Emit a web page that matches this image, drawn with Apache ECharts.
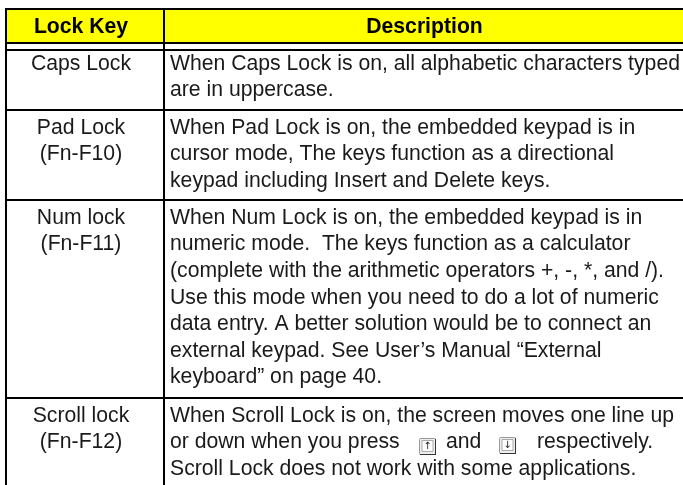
<!DOCTYPE html>
<html>
<head>
<meta charset="utf-8">
<style>html,body{margin:0;padding:0;background:#fff}#main{width:683px;height:485px}</style>
<script src="https://cdn.jsdelivr.net/npm/echarts@6/dist/echarts.min.js"></script>
</head>
<body>
<div id="main"></div>
<script>
var headers = ['Lock Key', 'Description'];
var lockKeys = [
  ['Caps Lock'],
  ['Pad Lock', '(Fn-F10)'],
  ['Num lock', '(Fn-F11)'],
  ['Scroll lock', '(Fn-F12)']
];
var descriptions = [
  ['When Caps Lock is on, all alphabetic characters typed',
   'are in uppercase.'],
  ['When Pad Lock is on, the embedded keypad is in',
   'cursor mode, The keys function as a directional',
   'keypad including Insert and Delete keys.'],
  ['When Num Lock is on, the embedded keypad is in',
   'numeric mode.  The keys function as a calculator',
   '(complete with the arithmetic operators +, -, *, and /).',
   'Use this mode when you need to do a lot of numeric',
   'data entry. A better solution would be to connect an',
   'external keypad. See User\u2019s Manual \u201cExternal',
   'keyboard\u201d on page 40.'],
  ['When Scroll Lock is on, the screen moves one line up',
   'or down when you press',
   'Scroll Lock does not work with some applications.']
];
var pressTail = ['and', 'respectively.'];
var keyArrows = ['\u2191', '\u2193'];

var chart = echarts.init(document.getElementById('main'));
var FONT = '"Liberation Sans", Arial, sans-serif';
var FS = 21.2, LH = 26.6;
var xL = 6, xM = 164, xR = 683;
var xKey = 81, xDesc = 424.5;
var yTop = 9, yHead = 43, yGap = 50;
var rowBottoms = [110, 200, 398, 485];
var firstLine = [64, 128, 218, 416];
var tailX = [446, 537];
var keyBox = [[419, 438], [499, 437]];
var els = [];

function hline(y){
  els.push({type:'line', shape:{x1:xL-1,y1:y,x2:xR,y2:y}, style:{stroke:'#000',lineWidth:2}});
}
function vline(x, y1, y2){
  els.push({type:'line', shape:{x1:x,y1:y1,x2:x,y2:y2}, style:{stroke:'#000',lineWidth:2}});
}
function text(s, x, y, align, bold){
  els.push({type:'text', x:x, y:y, style:{text:s, font:(bold?'bold ':'')+FS+'px '+FONT, fill:bold?'#000':'#1a1a1a', align:align, verticalAlign:'middle'}});
}

els.push({type:'rect', shape:{x:xL,y:yTop,width:xR-xL,height:yHead-yTop}, style:{fill:'#ffff00'}});
hline(yTop); hline(yHead); hline(yGap);
rowBottoms.slice(0,3).forEach(function(y){hline(y);});
vline(xL, yTop-1, 485);
vline(xM, yTop-1, 485);

text(headers[0], xKey, 27, 'center', true);
text(headers[1], xDesc, 27, 'center', true);

lockKeys.forEach(function(lines, r){
  lines.forEach(function(s, i){ text(s, xKey, firstLine[r]+i*LH, 'center'); });
  descriptions[r].forEach(function(s, i){ text(s, 170, firstLine[r]+i*LH, 'left'); });
});

// the two keycap icons in the last row
keyBox.forEach(function(b, i){
  els.push({type:'rect', shape:{x:b[0]+0.5,y:b[1]+0.5,width:16,height:16,r:1}, style:{fill:'#eee',stroke:'#999',lineWidth:1}});
  els.push({type:'line', shape:{x1:b[0]+1,y1:b[1]+16.5,x2:b[0]+17,y2:b[1]+16.5}, style:{stroke:'#333',lineWidth:1}});
  els.push({type:'line', shape:{x1:b[0]+16.5,y1:b[1]+1,x2:b[0]+16.5,y2:b[1]+17}, style:{stroke:'#333',lineWidth:1}});
  els.push({type:'rect', shape:{x:b[0]+3,y:b[1]+2.5,width:11,height:11}, style:{fill:'#fff',stroke:'#777',lineWidth:0.6}});
  els.push({type:'text', x:b[0]+8.5, y:b[1]+8, style:{text:keyArrows[i], font:'10px "DejaVu Sans"', fill:'#222', align:'center', verticalAlign:'middle'}});
  text(pressTail[i], tailX[i], firstLine[3]+LH, 'left');
});

chart.setOption({animation:false, graphic:{elements:els}});
</script>
</body>
</html>
